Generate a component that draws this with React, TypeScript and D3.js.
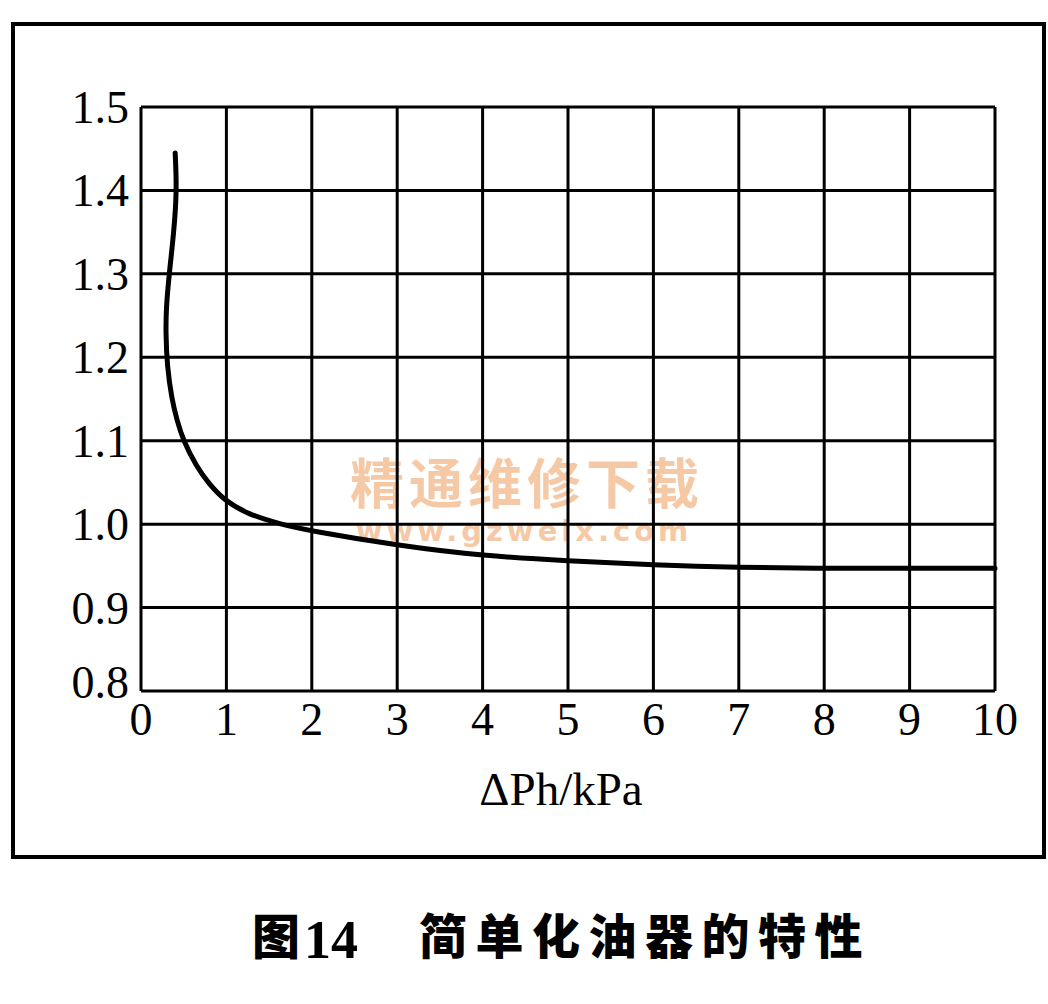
import { useMemo } from 'react';
import * as d3 from 'd3';

// x ticks (ΔPh, kPa) and y ticks
const xTicks = [0, 1, 2, 3, 4, 5, 6, 7, 8, 9, 10];
const yTicks = [0.8, 0.9, 1.0, 1.1, 1.2, 1.3, 1.4, 1.5];

// characteristic curve
const curveX = [0.4, 0.42, 0.385, 0.33, 0.295, 0.29, 0.305, 0.36, 0.42, 0.495, 0.65, 0.79, 0.98, 1.25, 1.63, 1.98, 3.03, 4, 5, 6, 7, 8, 9, 10];
const curveY = [1.445, 1.4, 1.35, 1.3, 1.26, 1.23, 1.19, 1.15, 1.125, 1.1, 1.069, 1.049, 1.028, 1.012, 1.0, 0.992, 0.974, 0.962, 0.956, 0.951, 0.948, 0.947, 0.947, 0.947];

const xTitle = 'ΔPh/kPa';
const figNo = '14';
const figTitle = '简单化油器的特性';

const W = 1048;
const H = 1004;
const serif = '"Liberation Serif", "DejaVu Serif", serif';
const cjk = '"Noto Sans CJK SC", "Noto Sans", sans-serif';

export default function App() {
  const x = useMemo(() => d3.scaleLinear().domain([0, 10]).range([141, 995]), []);
  const y = useMemo(() => d3.scaleLinear().domain([0.8, 1.5]).range([691, 107]), []);

  const pts = curveX.map((v, i) => [v, curveY[i]] as [number, number]);
  const line = d3
    .line<[number, number]>()
    .x((d) => x(d[0]))
    .y((d) => y(d[1]))
    .curve(d3.curveBasis);

  return (
    <svg
      width={W}
      height={H}
      style={{ position: 'absolute', left: 0, top: 0, background: '#fff' }}
    >
      <rect x={0} y={0} width={W} height={H} fill="#fff" />
      {/* outer frame */}
      <rect x={13} y={24} width={1031} height={833} fill="none" stroke="#000" strokeWidth={4} />

      {/* watermark (sits under the grid) */}
      <text
        x={350}
        y={504}
        fontFamily={cjk}
        fontSize={54}
        fontWeight={700}
        fill="#f6c9a6"
        letterSpacing={5}
      >
        精通维修下载
      </text>
      <text
        x={524}
        y={541}
        fontFamily='"DejaVu Sans", sans-serif'
        fontSize={29}
        fontWeight={700}
        fill="#f6c9a6"
        textAnchor="middle"
        letterSpacing={4}
      >
        www.gzweix.com
      </text>

      {/* grid */}
      {xTicks.map((t) => (
        <line key={`gx${t}`} x1={x(t)} x2={x(t)} y1={y(1.5)} y2={y(0.8)} stroke="#000" strokeWidth={3} />
      ))}
      {yTicks.map((t) => (
        <line key={`gy${t}`} x1={x(0)} x2={x(10)} y1={y(t)} y2={y(t)} stroke="#000" strokeWidth={3} />
      ))}

      {/* curve */}
      <path
        d={line(pts) ?? ''}
        fill="none"
        stroke="#000"
        strokeWidth={5}
        strokeLinecap="round"
        strokeLinejoin="round"
      />

      {/* y tick labels */}
      {yTicks.map((t) => (
        <text
          key={`ly${t}`}
          x={129}
          y={y(t) + (t === 0.8 ? 7 : 16)}
          fontFamily={serif}
          fontSize={46}
          textAnchor="end"
          fill="#000"
        >
          {t.toFixed(1)}
        </text>
      ))}

      {/* x tick labels */}
      {xTicks.map((t) => (
        <text
          key={`lx${t}`}
          x={x(t)}
          y={735}
          fontFamily={serif}
          fontSize={46}
          textAnchor="middle"
          fill="#000"
        >
          {t}
        </text>
      ))}

      <text x={561} y={805} fontFamily={serif} fontSize={47} textAnchor="middle" fill="#000">
        {xTitle}
      </text>

      {/* caption */}
      <text x={252} y={954} fontFamily={cjk} fontSize={48} fontWeight={900} fill="#000">
        图
      </text>
      <text x={304} y={958} fontFamily={serif} fontSize={54} fontWeight={700} fill="#000">
        {figNo}
      </text>
      <text
        x={419}
        y={954}
        fontFamily={cjk}
        fontSize={48}
        fontWeight={900}
        fill="#000"
        letterSpacing={8.5}
      >
        {figTitle}
      </text>
    </svg>
  );
}
